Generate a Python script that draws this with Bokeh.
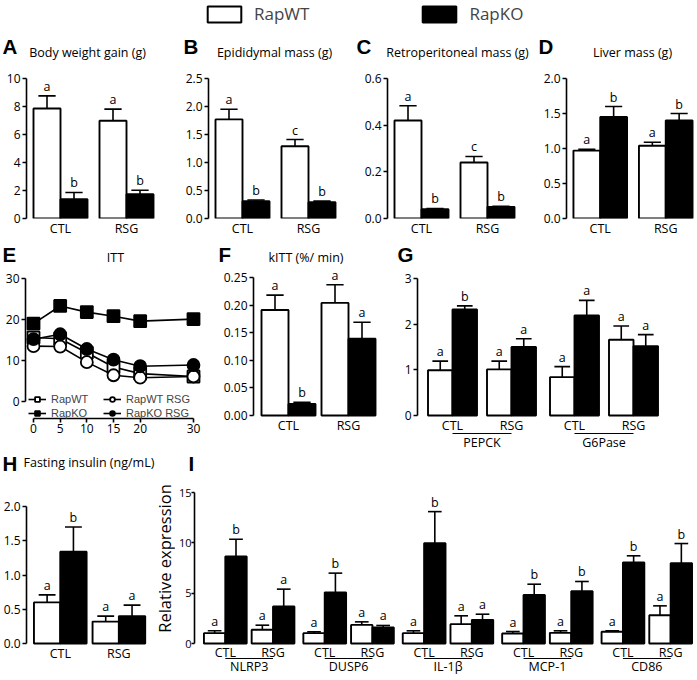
import math
from bokeh.plotting import figure
from bokeh.models import (Range1d, FixedTicker, Legend, LegendItem, PrintfTickFormatter)
from bokeh.layouts import column, row
from bokeh.embed import file_html
from bokeh.resources import INLINE
from bokeh.core.properties import value

# ------------------------------------------------------------------ data
treat = ["CTL", "RSG"]
series_names = ["RapWT", "RapKO"]

# A  body weight gain (g)
bwg_wt = [7.86, 6.98]; bwg_wt_se = [0.90, 0.83]
bwg_ko = [1.38, 1.74]; bwg_ko_se = [0.48, 0.28]
bwg_let_wt = ["a", "a"]; bwg_let_ko = ["b", "b"]
# B  epididymal mass (g)
epi_wt = [1.77, 1.29]; epi_wt_se = [0.18, 0.12]
epi_ko = [0.31, 0.29]; epi_ko_se = [0.02, 0.02]
epi_let_wt = ["a", "c"]; epi_let_ko = ["b", "b"]
# C  retroperitoneal mass (g)
ret_wt = [0.42, 0.24]; ret_wt_se = [0.063, 0.026]
ret_ko = [0.040, 0.050]; ret_ko_se = [0.003, 0.002]
ret_let_wt = ["a", "c"]; ret_let_ko = ["b", "b"]
# D  liver mass (g)
liv_wt = [0.97, 1.04]; liv_wt_se = [0.02, 0.05]
liv_ko = [1.45, 1.40]; liv_ko_se = [0.15, 0.10]
liv_let_wt = ["a", "a"]; liv_let_ko = ["b", "b"]

# E  ITT
itt_time = [0, 5, 10, 15, 20, 30]
itt_wt = [15.6, 15.3, 11.9, 8.4, 6.8, 6.1]
itt_ko = [19.0, 23.3, 21.8, 20.8, 19.6, 20.1]
itt_wt_rsg = [13.5, 13.4, 9.6, 6.4, 5.8, 6.1]
itt_ko_rsg = [15.2, 16.4, 12.8, 10.2, 8.6, 8.9]
itt_wt_se = [0.6, 0.6, 0.6, 0.5, 0.5, 0.5]
itt_ko_se = [0.9, 0.8, 0.7, 0.7, 0.8, 1.3]
itt_wt_rsg_se = [0.5, 0.5, 0.5, 0.5, 0.4, 0.4]
itt_ko_rsg_se = [0.6, 0.6, 0.6, 0.6, 0.5, 0.7]
itt_x_ticks = [0, 5, 10, 15, 20, 30]
itt_y_ticks = [0, 10, 20, 30]

# F  kITT (%/min)
kitt_wt = [0.191, 0.204]; kitt_wt_se = [0.027, 0.033]
kitt_ko = [0.021, 0.139]; kitt_ko_se = [0.003, 0.030]
kitt_let_wt = ["a", "a"]; kitt_let_ko = ["b", "a"]

# G  liver gene expression
g_genes = ["PEPCK", "G6Pase"]
g_wt = [0.99, 1.01, 0.84, 1.66]; g_wt_se = [0.20, 0.18, 0.23, 0.30]
g_ko = [2.32, 1.50, 2.19, 1.52]; g_ko_se = [0.08, 0.18, 0.33, 0.25]
g_let_wt = ["a", "a", "a", "a"]; g_let_ko = ["b", "a", "a", "a"]

# H  fasting insulin (ng/mL)
ins_wt = [0.60, 0.32]; ins_wt_se = [0.11, 0.08]
ins_ko = [1.34, 0.40]; ins_ko_se = [0.36, 0.16]
ins_let_wt = ["a", "a"]; ins_let_ko = ["b", "a"]

# I  adipose inflammatory genes
i_genes = ["NLRP3", "DUSP6", "IL-1\u03b2", "MCP-1", "CD86"]
i_wt = [1.03, 1.36, 1.03, 1.85, 1.03, 1.92, 0.99, 1.06, 1.16, 2.81]
i_wt_se = [0.23, 0.46, 0.13, 0.30, 0.23, 0.83, 0.20, 0.20, 0.10, 0.93]
i_ko = [8.64, 3.68, 5.07, 1.59, 9.97, 2.35, 4.83, 5.20, 8.05, 7.98]
i_ko_se = [1.72, 1.72, 1.92, 0.20, 3.13, 0.56, 1.06, 0.96, 0.66, 1.95]
i_let_wt = ["a"] * 10
i_let_ko = ["b", "a", "b", "a", "b", "a", "b", "b", "b", "b"]
i_ylabel = "Relative expression"

panel_letters = ["A", "B", "C", "D", "E", "F", "G", "H", "I"]
titles_row1 = ["Body weight gain (g)", "Epididymal mass (g)",
               "Retroperitoneal mass (g)", "Liver mass (g)"]

# ------------------------------------------------------------------ style
FONT = "Open Sans"
ARIAL = "Liberation Sans"
LW = 1.6
W_REF = 697
NAN = float("nan")


def fs(v):
    return f"{v:.2f}px"


def make_fig(fx0, fx1, ry0, ry1, fl, ft, fr, fb, xr, yr, x_axis=True):
    kw = {} if x_axis else {"x_axis_location": None}
    p = figure(width=fx1 - fx0, height=ry1 - ry0, x_range=xr, y_range=yr,
               output_backend="svg", toolbar_location=None,
               min_border_left=fl - fx0, min_border_right=fx1 - fr,
               min_border_top=ft - ry0, min_border_bottom=ry1 - fb, **kw)
    p.grid.visible = False
    p.outline_line_color = None
    for ax in p.axis:
        ax.axis_line_width = LW
        ax.major_tick_line_width = LW
        ax.major_tick_out = 4
        ax.major_tick_in = 0
        ax.minor_tick_line_color = None
        ax.major_label_text_font = FONT
        ax.major_label_text_font_size = fs(12)
        ax.major_label_standoff = 2
        ax.major_label_text_color = "black"
    return p


def strip(y0, y1):
    """full-width band whose data coordinates are reference pixels"""
    p = figure(width=W_REF, height=y1 - y0,
               x_range=Range1d(0, W_REF), y_range=Range1d(y1, y0),
               x_axis_type=None, y_axis_type=None, output_backend="svg",
               toolbar_location=None, min_border=0)
    p.outline_line_color = None
    p.grid.visible = False
    return p


def letters(p, xs, ys, txt):
    p.text(x=xs, y=ys, text=txt, text_font=value(ARIAL), text_font_style="bold",
           text_font_size=value(fs(20.5)), text_baseline="middle",
           text_align="left", text_color="black")


def titles(p, xs, ys, txt, align):
    p.text(x=xs, y=ys, text=txt, text_font=value(FONT), text_font_size=value(fs(12.5)),
           text_baseline="middle", text_align=align, text_color="black")


def bar_chart(box, axis_left, axis_top, axis_right, axis_bottom, ymax, yticks, fmt,
              centers, cat_labels, W, wt, wt_se, ko, ko_se, let_wt, let_ko,
              frame_bottom=None, genes=None, cat_dy=0, line_dy=0, text_dy=0):
    fx0, fx1, ry0, ry1 = box
    ppu = (axis_bottom - axis_top) / ymax
    head = axis_top - ry0
    if frame_bottom is None:
        frame_bottom = axis_bottom
    ymin = -(frame_bottom - axis_bottom) / ppu
    p = make_fig(fx0, fx1, ry0, ry1, axis_left, ry0, axis_right, frame_bottom,
                 Range1d(0, axis_right - axis_left), Range1d(ymin, ymax + head / ppu),
                 x_axis=not genes)
    xw = [c - W / 2 for c in centers]
    xk = [c + W / 2 for c in centers]
    p.vbar(x=xw, top=wt, bottom=0, width=W, fill_color="white",
           line_color="black", line_width=1.9)
    p.vbar(x=xk, top=ko, bottom=0, width=W, fill_color="black",
           line_color="black", line_width=1.9)
    xs = xw + xk
    lo = list(wt) + list(ko)
    hi = [a + b for a, b in zip(wt, wt_se)] + [a + b for a, b in zip(ko, ko_se)]
    cap = W * 0.32
    p.segment(x0=xs, y0=lo, x1=xs, y1=hi, line_color="black", line_width=LW)
    p.segment(x0=[x - cap for x in xs], y0=hi, x1=[x + cap for x in xs], y1=hi,
              line_color="black", line_width=LW)
    p.text(x=xs, y=hi, text=list(let_wt) + list(let_ko), text_align="center",
           text_baseline="bottom", y_offset=-1, text_font=value(FONT),
           text_font_size=value(fs(12.5)), text_color="black")
    yax = p.yaxis[0]
    yax.bounds = (0, ymax)
    yax.ticker = FixedTicker(ticks=yticks)
    yax.formatter = PrintfTickFormatter(format=fmt)
    if genes:
        # category and gene labels drawn below the zero line inside the frame
        p.text(x=centers, y=[-cat_dy / ppu] * len(centers), text=cat_labels,
               text_align="center", text_baseline="middle", text_font=value(FONT),
               text_font_size=value(fs(12.5)), text_color="black")
        ng = len(genes)
        c0 = [centers[2 * g] for g in range(ng)]
        c1 = [centers[2 * g + 1] for g in range(ng)]
        yl = -line_dy / ppu
        p.segment(x0=c0, y0=[yl] * ng, x1=c1, y1=[yl] * ng, line_color="black",
                  line_width=1.2)
        p.text(x=[(a + b) / 2 for a, b in zip(c0, c1)], y=[-text_dy / ppu] * ng,
               text=genes, text_align="center", text_baseline="middle",
               text_font=value(FONT), text_font_size=value(fs(12.5)), text_color="black")
    else:
        xax = p.xaxis[0]
        xax.ticker = FixedTicker(ticks=centers)
        xax.major_label_overrides = {c: l for c, l in zip(centers, cat_labels)}
        xax.axis_line_color = None
        xax.major_tick_line_color = None
        xax.major_tick_out = 0
        xax.major_label_text_font_size = fs(12.5)
        xax.major_label_standoff = 1
        if frame_bottom > axis_bottom:
            xax.fixed_location = 0
    return p, ppu


# ------------------------------------------------------------------ top legend
top = strip(0, 25)
r_wt = top.vbar(x=[NAN], top=[NAN], width=1, fill_color="white", line_color="black",
                line_width=2)
r_ko = top.vbar(x=[NAN], top=[NAN], width=1, fill_color="black", line_color="black",
                line_width=2)
top_leg = Legend(items=[LegendItem(label=series_names[0], renderers=[r_wt]),
                        LegendItem(label=series_names[1], renderers=[r_ko])],
                 location=(203, 0), orientation="horizontal",
                 glyph_width=42, glyph_height=20, label_height=20,
                 label_standoff=9, spacing=109, padding=0,
                 margin=0, border_line_color=None, background_fill_alpha=0,
                 label_text_font=FONT, label_text_font_size=fs(17))
top.add_layout(top_leg)

# ------------------------------------------------------------------ row 1
h1 = strip(25, 62)
letters(h1, [2, 183, 356, 538], [45.5] * 4, panel_letters[0:4])
titles(h1, [87, 274, 457, 632], [52] * 4, titles_row1, "center")

R1 = (62, 240)
c2 = [34, 100]
A, _ = bar_chart((0, 182) + R1, 26, 78, 158, 218, 10, [0, 2, 4, 6, 8, 10], "%d",
                 c2, treat, 27, bwg_wt, bwg_wt_se, bwg_ko, bwg_ko_se, bwg_let_wt, bwg_let_ko)
B, _ = bar_chart((182, 361) + R1, 208, 78, 340, 218, 2.5, [0, 0.5, 1.0, 1.5, 2.0, 2.5], "%.1f",
                 c2, treat, 27, epi_wt, epi_wt_se, epi_ko, epi_ko_se, epi_let_wt, epi_let_ko)
C, _ = bar_chart((361, 540) + R1, 387, 78, 519, 218, 0.6, [0, 0.2, 0.4, 0.6], "%.1f",
                 c2, treat, 27, ret_wt, ret_wt_se, ret_ko, ret_ko_se, ret_let_wt, ret_let_ko)
D, _ = bar_chart((540, 697) + R1, 565, 78, 697, 218, 2.0, [0, 0.5, 1.0, 1.5, 2.0], "%.1f",
                 c2, treat, 27, liv_wt, liv_wt_se, liv_ko, liv_ko_se, liv_let_wt, liv_let_ko)

# ------------------------------------------------------------------ row 2
h2 = strip(240, 265)
letters(h2, [2, 218, 397], [253.5, 253.5, 253.5], panel_letters[4:7])
titles(h2, [115], [256.5], ["ITT"], "center")
titles(h2, [268], [256.5], ["kITT (%/ min)"], "left")

R2 = (265, 450)
ex0, exs = 33, 160 / 30       # px of x=0, px per minute
ey0, eys = 401, 123 / 30      # px of y=0, px per unit
E = make_fig(0, 205, *R2, 25, 265, 201, 450,
             Range1d((25 - ex0) / exs, (201 - ex0) / exs),
             Range1d(-(450 - ey0) / eys, 30 + (278 - 265) / eys))
legend_items = []
specs = [("RapWT", itt_wt, itt_wt_se, "square", "white"),
         ("RapWT RSG", itt_wt_rsg, itt_wt_rsg_se, "circle", "white"),
         ("RapKO", itt_ko, itt_ko_se, "square", "black"),
         ("RapKO RSG", itt_ko_rsg, itt_ko_rsg_se, "circle", "black")]
for name, ys, se, mk, fill in specs:
    ln = E.line(itt_time, ys, line_color="black", line_width=1.6)
    up = [a + b for a, b in zip(ys, se)]
    dn = [a - b for a, b in zip(ys, se)]
    E.segment(x0=itt_time, y0=dn, x1=itt_time, y1=up, line_color="black", line_width=1.4)
    E.segment(x0=[t - 0.7 for t in itt_time], y0=up, x1=[t + 0.7 for t in itt_time], y1=up,
              line_color="black", line_width=1.4)
    E.segment(x0=[t - 0.7 for t in itt_time], y0=dn, x1=[t + 0.7 for t in itt_time], y1=dn,
              line_color="black", line_width=1.4)
    sc = E.scatter(itt_time, ys, marker=mk, size=12, fill_color=fill,
                   line_color="black", line_width=1.8)
    legend_items.append(LegendItem(label=name, renderers=[ln, sc]))
leg_e = Legend(items=legend_items, location=(3, 450 - 419), orientation="horizontal",
               ncols=2, glyph_width=18, glyph_height=12, label_height=12,
               label_standoff=5, label_width=50, spacing=2,
               padding=0, margin=0, border_line_color=None, background_fill_alpha=0,
               label_text_font=ARIAL, label_text_font_size=fs(11))
E.add_layout(leg_e)
E.xaxis.bounds = (0, 30)
E.xaxis.ticker = FixedTicker(ticks=itt_x_ticks)
E.xaxis.fixed_location = -(418 - ey0) / eys
E.yaxis.bounds = (0, 30)
E.yaxis.ticker = FixedTicker(ticks=itt_y_ticks)
E.xaxis.major_label_standoff = 1

F, _ = bar_chart((205, 390) + R2, 253, 277, 380, 415, 0.25, [0, 0.05, 0.10, 0.15, 0.20, 0.25], "%.2f",
                 [35, 95], treat, 27, kitt_wt, kitt_wt_se, kitt_ko, kitt_ko_se, kitt_let_wt, kitt_let_ko,
                 frame_bottom=450)

gc = [35, 94, 157, 216]
G, _ = bar_chart((390, 697) + R2, 417, 278, 668, 415, 3, [0, 1, 2, 3], "%d",
                 gc, treat * 2, 24.5, g_wt, g_wt_se, g_ko, g_ko_se, g_let_wt, g_let_ko,
                 frame_bottom=450, genes=g_genes, cat_dy=10, line_dy=18, text_dy=27)

# ------------------------------------------------------------------ row 3
h3 = strip(450, 482)
letters(h3, [2, 188], [462.5, 462.5], panel_letters[7:9])
titles(h3, [23], [462], ["Fasting insulin (ng/mL)"], "left")

R3 = (482, 679)
H, h_ppu = bar_chart((0, 175) + R3, 25, 506, 175, 643, 2.0, [0, 0.5, 1.0, 1.5, 2.0], "%.1f",
                     [34, 93], treat, 26.5, ins_wt, ins_wt_se, ins_ko, ins_ko_se,
                     ins_let_wt, ins_let_ko, frame_bottom=679)
# y-axis title of panel I sits just left of its axis
H.text(x=[163.5 - 25], y=[(643 - 558) / h_ppu], text=[i_ylabel], angle=math.pi / 2,
       text_align="center", text_baseline="middle", text_font=value(FONT),
       text_font_size=value(fs(16.5)), text_color="black")

ic = [31 + 100 * (k // 2) + 48 * (k % 2) for k in range(10)]
I, _ = bar_chart((175, 697) + R3, 191, 492, 697, 643, 15, [0, 5, 10, 15], "%d",
                 ic, treat * 5, 21.5, i_wt, i_wt_se, i_ko, i_ko_se, i_let_wt, i_let_ko,
                 frame_bottom=679, genes=i_genes, cat_dy=9, line_dy=15, text_dy=23)
I.yaxis.major_tick_out = 3
I.yaxis.major_label_standoff = 0
I.yaxis.major_label_text_font_size = fs(11)

layout = column(top, h1,
                row(A, B, C, D),
                h2,
                row(E, F, G),
                h3,
                row(H, I))

open("out.html", "w").write(file_html(layout, INLINE))
